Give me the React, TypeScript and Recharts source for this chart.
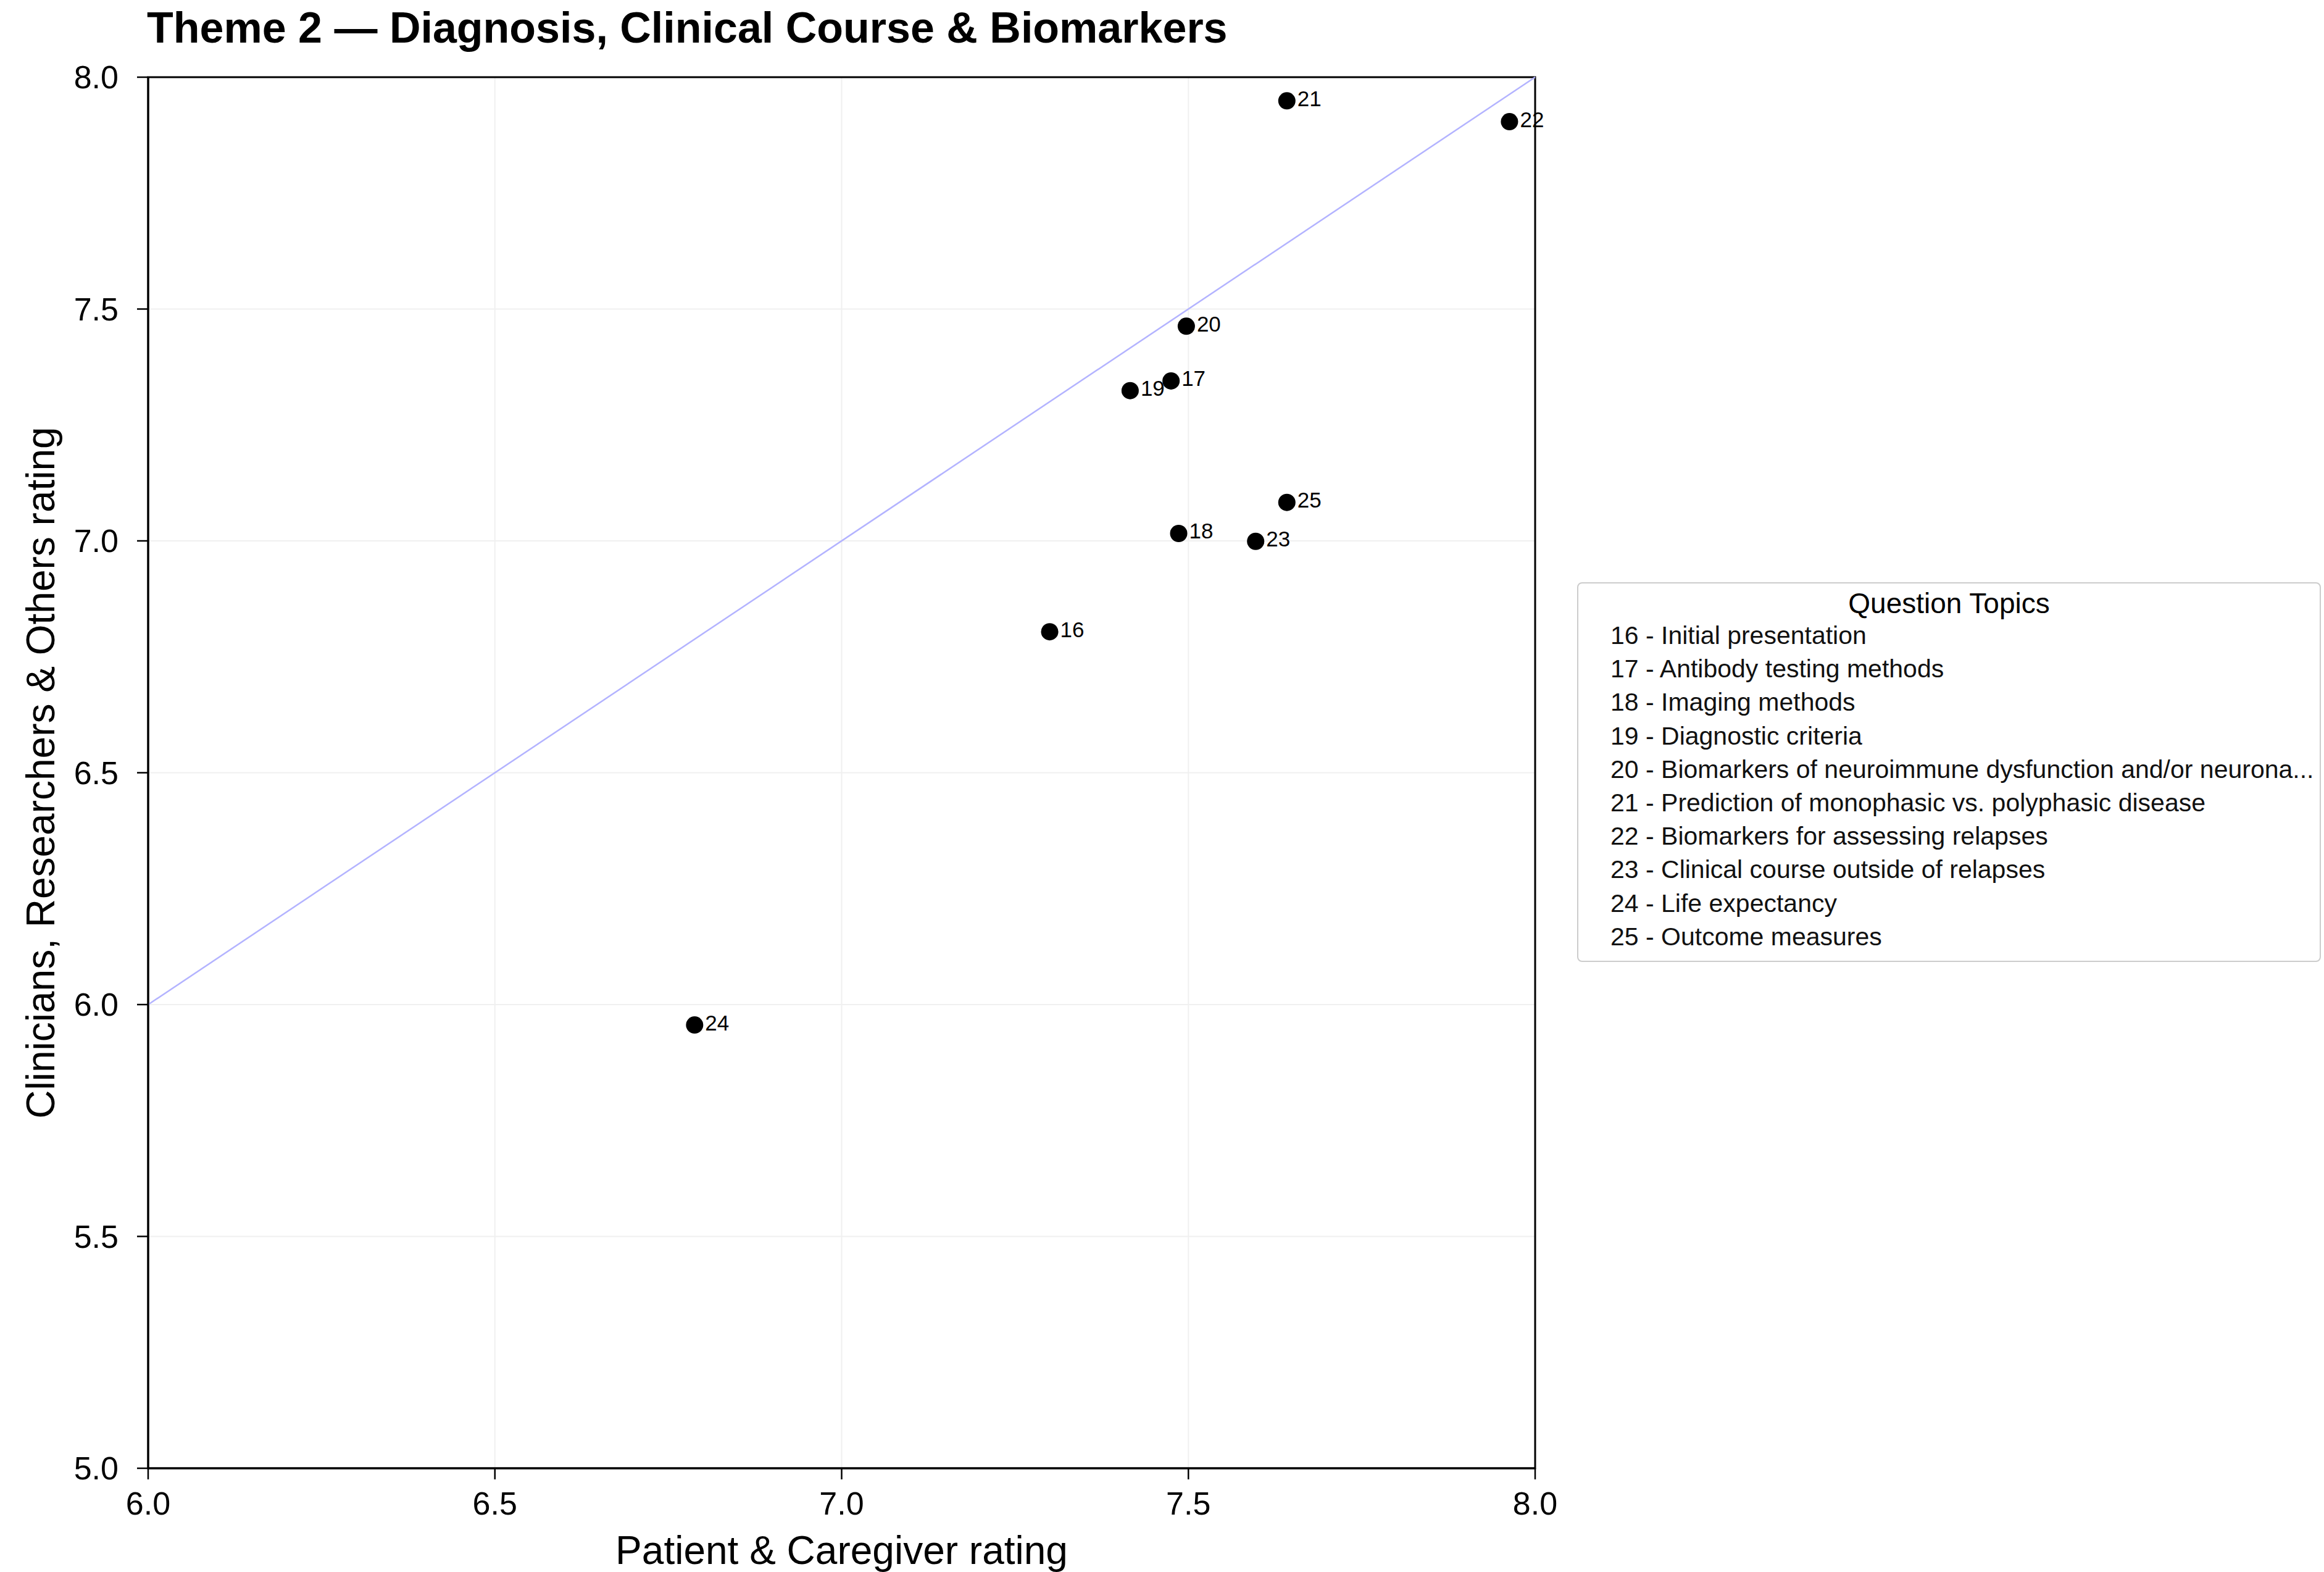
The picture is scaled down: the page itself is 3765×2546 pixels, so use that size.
import React from 'react';
import { ScatterChart, Scatter, XAxis, YAxis, CartesianGrid, ReferenceLine, ReferenceArea } from 'recharts';

const FONT = '"Liberation Sans", Arial, Helvetica, sans-serif';

// question numbers and mean ratings per group
const topicIds = [16, 17, 18, 19, 20, 21, 22, 23, 24, 25];
const patientRatings = [7.3, 7.475, 7.486, 7.416, 7.497, 7.642, 7.963, 7.597, 6.788, 7.642];
const clinicianRatings = [6.804, 7.345, 7.016, 7.324, 7.463, 7.949, 7.904, 6.999, 5.956, 7.083];
const topicNames = [
  'Initial presentation',
  'Antibody testing methods',
  'Imaging methods',
  'Diagnostic criteria',
  'Biomarkers of neuroimmune dysfunction and/or neurona...',
  'Prediction of monophasic vs. polyphasic disease',
  'Biomarkers for assessing relapses',
  'Clinical course outside of relapses',
  'Life expectancy',
  'Outcome measures',
];
const xTicks = [6, 6.5, 7, 7.5, 8];
const yTicks = [5, 5.5, 6, 6.5, 7, 7.5, 8];

const points = topicIds.map((id, i) => ({ id, x: patientRatings[i], y: clinicianRatings[i] }));

const DotWithId = (props: any) => {
  const { cx, cy, payload } = props;
  return (
    <g>
      <circle cx={cx} cy={cy} r={14} fill="#000" />
      <text x={cx + 17} y={cy - 4} fontSize={35} fill="#000" dominantBaseline="central">
        {payload.id}
      </text>
    </g>
  );
};

const TopicLegend = () => (
  <div
    style={{
      position: 'absolute',
      left: 2555,
      top: 943,
      width: 1205,
      height: 615,
      boxSizing: 'border-box',
      border: '2px solid #cccccc',
      borderRadius: 8,
      background: '#fff',
      paddingTop: 7,
    }}
  >
    <div style={{ height: 50, lineHeight: '50px', fontSize: 46, textAlign: 'center', color: '#000' }}>
      Question Topics
    </div>
    {topicIds.map((id, i) => (
      <div
        key={id}
        style={{ height: 54.2, lineHeight: '54.2px', fontSize: 41, paddingLeft: 52, color: '#111', whiteSpace: 'nowrap' }}
      >
        {id} - {topicNames[i]}
      </div>
    ))}
  </div>
);

export default function App() {
  return (
    <div
      style={{
        position: 'absolute',
        left: 0,
        top: 0,
        width: 3765,
        height: 2546,
        overflow: 'hidden',
        background: '#fff',
        fontFamily: FONT,
      }}
    >
      <div
        style={{
          position: 'absolute',
          left: 238,
          top: 10,
          fontSize: 70,
          lineHeight: 1,
          fontWeight: 'bold',
          color: '#000',
          whiteSpace: 'nowrap',
        }}
      >
        Theme 2 — Diagnosis, Clinical Course &amp; Biomarkers
      </div>

      <ScatterChart width={3765} height={2546} margin={{ top: 125, right: 1278, left: 0, bottom: 0 }}>
        <CartesianGrid stroke="#f0f0f0" strokeWidth={2} />
        <XAxis
          type="number"
          dataKey="x"
          domain={[6, 8]}
          ticks={xTicks}
          tickFormatter={(v: number) => v.toFixed(1)}
          height={168}
          axisLine={{ stroke: '#000', strokeWidth: 3 }}
          tickLine={{ stroke: '#000', strokeWidth: 2.5 }}
          tickSize={18}
          tickMargin={20}
          tick={{ fontSize: 52, fill: '#000' }}
          label={{ value: 'Patient & Caregiver rating', position: 'insideBottom', offset: 13, fontSize: 64, fill: '#000' }}
        />
        <YAxis
          type="number"
          dataKey="y"
          domain={[5, 8]}
          ticks={yTicks}
          tickFormatter={(v: number) => v.toFixed(1)}
          width={240}
          axisLine={{ stroke: '#000', strokeWidth: 3 }}
          tickLine={{ stroke: '#000', strokeWidth: 2.5 }}
          tickSize={18}
          tickMargin={30}
          tick={{ fontSize: 52, fill: '#000' }}
          label={{
            value: 'Clinicians, Researchers & Others rating',
            angle: -90,
            position: 'insideLeft',
            offset: 65,
            fontSize: 64,
            fill: '#000',
            style: { textAnchor: 'middle' },
          }}
        />
        <ReferenceArea x1={6} x2={8} y1={5} y2={8} fill="none" stroke="#000" strokeWidth={3} ifOverflow="visible" />
        <ReferenceLine
          segment={[
            { x: 6, y: 6 },
            { x: 8, y: 8 },
          ]}
          stroke="#b3b3ff"
          strokeWidth={2.5}
        />
        <Scatter data={points} shape={<DotWithId />} isAnimationActive={false} />
      </ScatterChart>

      <TopicLegend />
    </div>
  );
}
